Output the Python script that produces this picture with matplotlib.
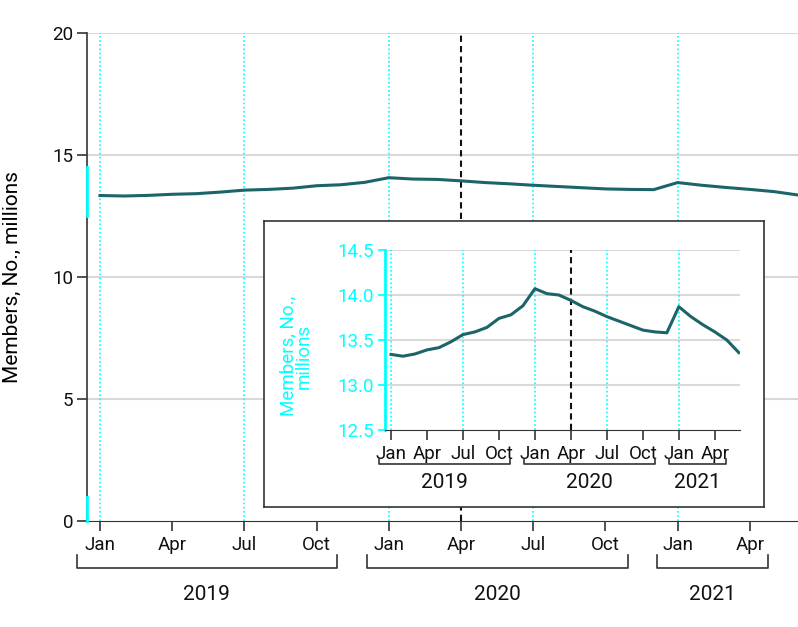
import matplotlib
matplotlib.use("Agg")
import matplotlib.pyplot as plt
import matplotlib.transforms as mtransforms
from matplotlib import font_manager

# 字体：尽量用窄体
names = {f.name for f in font_manager.fontManager.ttflist}
fam = ["Liberation Sans Narrow", "DejaVu Sans"] if "Liberation Sans Narrow" in names else ["Roboto", "DejaVu Sans"]
plt.rcParams["font.family"] = fam
plt.rcParams["font.size"] = 13.5

# 数据：2019年1月至2021年6月，每月会员数（百万）
months = list(range(30))
members = [13.34, 13.32, 13.345, 13.39, 13.415, 13.48, 13.56, 13.59, 13.64, 13.74,
           13.78, 13.88, 14.07, 14.015, 14.0, 13.94, 13.87, 13.82, 13.76, 13.71,
           13.66, 13.61, 13.59, 13.58, 13.87, 13.76, 13.67, 13.59, 13.50, 13.36]
tick_pos = [0, 3, 6, 9, 12, 15, 18, 21, 24, 27]
tick_lbl = ["Jan", "Apr", "Jul", "Oct", "Jan", "Apr", "Jul", "Oct", "Jan", "Apr"]
jan_jul = [0, 6, 12, 18, 24]
policy = 15  # Apr 2020
years = ["2019", "2020", "2021"]
year_main = [(-0.96, 9.84), (11.09, 21.93), (23.13, 27.74)]
year_inset = [(-1.0, 9.9), (11.08, 22.0), (23.17, 27.9)]

teal = "#1b6469"
cyan = "#00ffff"
dark = "#333333"
grid = "#d9d9d9"

fig = plt.figure(figsize=(7.98, 6.27), dpi=100)


def style(ax, ymin, ymax, yt, ycol, ticklen):
    ax.set_ylim(ymin, ymax)
    ax.set_yticks(yt)
    for s in ["top", "right"]:
        ax.spines[s].set_visible(False)
    ax.spines["bottom"].set_color(dark)
    ax.spines["left"].set_color(ycol)
    ax.set_xticks(tick_pos, tick_lbl)
    ax.tick_params(axis="x", colors=dark, labelcolor="#111111", length=7, width=1.2, pad=4)
    ax.tick_params(axis="y", colors=ycol, labelcolor=ycol if ycol == cyan else "#111111",
                   length=ticklen, width=1.2, pad=3)
    for y in yt[1:]:
        ax.axhline(y, color=grid, lw=1.5, zorder=0)
    for m in jan_jul:
        ax.axvline(m, color=cyan, lw=1.2, ls=(0, (1, 1.5)), zorder=1)
    ax.axvline(policy, color="#111111", lw=1.5, ls=(0, (3, 2)), zorder=1)
    ax.plot(months, members, color=teal, lw=2.2, zorder=3)


def brackets(ax, spans, ylo, yhi, ytxt):
    tr = mtransforms.blended_transform_factory(ax.transData, ax.transAxes)
    for (a, b), lab in zip(spans, years):
        ax.plot([a, a, b, b], [yhi, ylo, ylo, yhi], color=dark, lw=1.2,
                transform=tr, clip_on=False)
        ax.text((a + b) / 2, ytxt, lab, transform=tr, ha="center", va="center",
                fontsize=15, color="#111111")


# 主图
ax = fig.add_axes([87 / 798, 1 - 521 / 627, 711 / 798, 488 / 627])
ax.set_xlim(-0.54, 29)
style(ax, 0, 20, [0, 5, 10, 15, 20], dark, 7)
ax.spines["left"].set_linewidth(1.2)
ax.set_ylabel("Members, No., millions", fontsize=15, labelpad=22)
brackets(ax, year_main, -0.096, -0.070, -0.150)
# 左轴上的青色标记
trl = mtransforms.blended_transform_factory(ax.transAxes, ax.transData)
for a, b in [(12.5, 14.5), (0, 1)]:
    ax.plot([0, 0], [a, b], color=cyan, lw=2, transform=trl, clip_on=False, zorder=5)

# 插图外框
box = fig.add_axes([264 / 798, 1 - 507 / 627, 500 / 798, 286 / 627])
box.set_xticks([])
box.set_yticks([])
for s in box.spines.values():
    s.set_color(dark)
    s.set_linewidth(1.2)

# 插图
ins = fig.add_axes([385 / 798, 1 - 430 / 627, 355 / 798, 180 / 627])
ins.set_xlim(-0.5, 29.1)
style(ins, 12.5, 14.5, [12.5, 13.0, 13.5, 14.0, 14.5], cyan, 5)
ins.spines["left"].set_linewidth(2)
ins.set_yticklabels(["12.5", "13.0", "13.5", "14.0", "14.5"])
ins.text(-106 / 355, 0.41, "Members, No.,\nmillions", transform=ins.transAxes,
         rotation=90, ha="left", va="center", ma="center", color=cyan,
         fontsize=13.5, linespacing=0.85)
ins.patch.set_alpha(0)
brackets(ins, year_inset, -0.189, -0.161, -0.289)

fig.savefig("out.png", dpi=100)
